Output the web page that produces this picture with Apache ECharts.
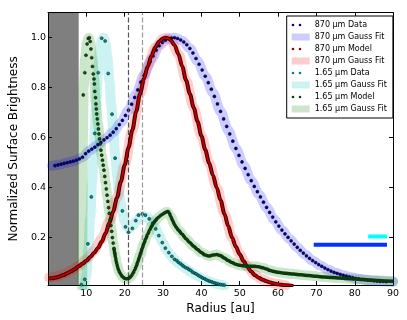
<!DOCTYPE html>
<html>
<head>
<meta charset="utf-8">
<style>
html, body { margin: 0; padding: 0; background: #fff; }
#chart { width: 407px; height: 320px; }
</style>
</head>
<body>
<div id="chart"></div>
<script src="https://cdn.jsdelivr.net/npm/echarts@6/dist/echarts.min.js"></script>
<script>
// radial profiles (radius in au, normalized surface brightness)
var r870 = [1.8,2.6,3.4,4.2,5.0,5.8,6.6,7.4,8.2,9.0,9.8,10.6,11.4,12.2,13.0,13.8,14.6,15.4,16.2,17.0,
  17.8,18.6,19.4,20.2,21.0,21.8,22.6,23.4,24.2,25.0,25.8,26.6,27.4,28.2,29.0,29.8,30.6,31.4,32.2,33.0,
  33.8,34.6,35.4,36.2,37.0,37.8,38.6,39.4,40.2,41.0,41.8,42.6,43.4,44.2,45.0,45.8,46.6,47.4,48.2,49.0,
  49.8,50.6,51.4,52.2,53.0,53.8,54.6,55.4,56.2,57.0,57.8,58.6,59.4,60.2,61.0,61.8,62.6,63.4,64.2,65.0,
  65.8,66.6,67.4,68.2,69.0,69.8,70.6,71.4,72.2,73.0,73.8,74.6,75.4,76.2,77.0,77.8,78.6,79.4,80.2,81.0,
  81.8,82.6,83.4,84.2,85.0,85.8,86.6,87.4,88.2];
var sb870Data = [0.488,0.491,0.494,0.497,0.500,0.503,0.506,0.510,0.515,0.522,
  0.536,0.546,0.554,0.562,0.572,0.581,0.591,0.600,0.610,0.622,
  0.636,0.652,0.669,0.689,0.710,0.734,0.761,0.791,0.822,0.850,
  0.878,0.903,0.927,0.950,0.968,0.981,0.990,0.996,0.999,1.000,
  0.997,0.991,0.983,0.972,0.957,0.939,0.917,0.894,0.871,0.846,
  0.820,0.794,0.765,0.735,0.705,0.675,0.645,0.615,0.586,0.557,
  0.529,0.503,0.477,0.452,0.428,0.405,0.384,0.363,0.342,0.321,
  0.301,0.282,0.263,0.246,0.230,0.215,0.201,0.187,0.174,0.161,
  0.149,0.138,0.127,0.117,0.108,0.100,0.092,0.085,0.078,0.072,
  0.066,0.061,0.057,0.053,0.049,0.046,0.043,0.040,0.037,0.035,
  0.033,0.032,0.030,0.029,0.027,0.026,0.025,0.025,0.024];

var fit870 = [[1,0.487],[3,0.492],[5,0.5],[7,0.508],[9,0.522],[11,0.55],[13,0.572],[15,0.596],[17,0.622],
  [19,0.66],[21,0.71],[23,0.775],[25,0.85],[27,0.915],[29,0.968],[31,0.994],[33,1.0],[35,0.988],[37,0.957],
  [39,0.906],[41,0.846],[43,0.78],[45,0.705],[47,0.63],[49,0.557],[51,0.49],[53,0.428],[55,0.373],[57,0.321],
  [59,0.272],[61,0.23],[63,0.194],[65,0.161],[67,0.132],[69,0.108],[71,0.088],[73,0.072],[75,0.059],[77,0.049],
  [79,0.041],[81,0.035],[83,0.031],[85,0.027],[87,0.025],[89,0.023],[90,0.023]];

var model870 = [[0.3,0.036],[1,0.037],[2,0.04],[3,0.044],[4,0.05],[5,0.057],[6,0.065],[7,0.074],[8,0.085],
  [9,0.096],[10,0.107],[11,0.122],[12,0.138],[13,0.158],[14,0.183],[15,0.217],[16,0.258],[17,0.305],[18,0.36],
  [19,0.424],[20,0.49],[21,0.56],[22,0.63],[23,0.705],[24,0.775],[25,0.835],[26,0.885],[27,0.928],[28,0.962],
  [29,0.985],[30,0.997],[30.7,1.0],[31.5,0.997],[32,0.99],[33,0.97],[34,0.935],[35,0.885],[36,0.83],[37,0.775],
  [38,0.72],[39,0.665],[40,0.607],[41,0.552],[42,0.5],[43,0.45],[44,0.4],[45,0.35],[46,0.296],[47,0.246],
  [48,0.2],[49,0.163],[50,0.133],[51,0.106],[52,0.083],[53,0.064],[54,0.049],[55,0.039],[56,0.031],[57,0.025],
  [58,0.02],[59,0.016],[60,0.013],[61,0.011],[62,0.009],[64,0.006]];

var fit870b = [[0.3,0.04],[2,0.044],[4,0.053],[6,0.068],[8,0.088],[10,0.113],[12,0.148],[14,0.195],[16,0.265],
  [18,0.362],[20,0.49],[22,0.63],[24,0.775],[26,0.885],[28,0.962],[30,0.997],[31,1.0],[32,0.99],[34,0.935],
  [36,0.83],[38,0.72],[40,0.607],[42,0.5],[44,0.4],[46,0.296],[48,0.2],[50,0.133],[52,0.083],[54,0.05],
  [56,0.032],[58,0.02],[60,0.013],[62,0.008]];

var data165 = [[8.7,0.012],[9.6,0.033],[10.4,0.175],[11.3,0.363],[12.2,0.617],[13.1,0.86],[14.0,0.998],
  [14.9,0.987],[15.7,0.857],[16.7,0.694],[17.5,0.518],[18.4,0.373],[19.4,0.307],[20.2,0.243],[21.0,0.221],
  [22.0,0.237],[22.9,0.268],[23.6,0.29],[24.6,0.295],[25.4,0.29],[26.4,0.275],[27.3,0.258],[28.1,0.235],
  [28.9,0.208],[29.8,0.18],[30.6,0.158],[31.5,0.14],[32.3,0.125],[33.0,0.113],[33.6,0.108],[34.0,0.101],
  [34.5,0.096],[35.0,0.09],[35.4,0.085],[35.9,0.08],[36.4,0.077],[36.8,0.072],[37.3,0.068],[37.7,0.062],
  [38.2,0.058],[38.6,0.055],[39.1,0.05],[39.5,0.046],[40.0,0.042],[40.4,0.038],[40.9,0.035],[41.3,0.031],
  [41.8,0.028],[42.2,0.025],[42.7,0.023],[43.1,0.02],[43.6,0.018],[44.0,0.016],[44.5,0.014],[45.0,0.012],
  [45.5,0.011],[46.0,0.01]];

var fit165 = [[9.5,0.0],[10,0.05],[10.5,0.15],[11,0.28],[11.5,0.42],[12,0.57],[12.5,0.72],[13,0.85],[13.5,0.94],
  [14,0.99],[14.5,1.0],[15,0.975],[15.5,0.92],[16,0.83],[16.5,0.73],[17,0.63],[17.5,0.535],[18,0.45],[18.5,0.385],
  [19,0.335],[19.5,0.295],[20,0.265],[20.5,0.245],[21,0.237],[21.5,0.238],[22,0.245],[23,0.265],[24,0.283],
  [25,0.288],[26,0.28],[27,0.262],[28,0.237],[29,0.208],[30,0.178],[31,0.15],[32,0.128],[33,0.112],[34,0.098],
  [35,0.086],[36,0.075],[37,0.065],[38,0.055],[39,0.046],[40,0.038],[41,0.031],[42,0.025],[43,0.02],[44,0.015],
  [45,0.011],[46,0.007]];

var model165 = [[8.9,0.0],[9.2,0.771],[9.6,0.86],[9.9,0.93],[10.2,0.975],[10.5,0.997],[10.8,1.0],[11.0,0.985],
  [11.2,0.955],[11.4,0.92],[11.6,0.885],[11.8,0.855],[12.0,0.835],[12.1,0.815],[12.2,0.785],[12.4,0.76],
  [12.5,0.735],[12.6,0.715],[12.7,0.695],[12.85,0.675],[13.0,0.655],[13.15,0.635],[13.3,0.615],[13.45,0.595],
  [13.6,0.575],[13.8,0.55],[14.0,0.53],[14.2,0.51],[14.4,0.49],[14.6,0.47],[14.8,0.445],[15.0,0.42],[15.2,0.395],
  [15.4,0.37],[15.6,0.345],[15.8,0.32],[16.0,0.297],[16.2,0.272],[16.4,0.248],[16.6,0.225],[16.8,0.2],[17.0,0.178],
  [17.2,0.157],[17.4,0.138],[17.6,0.12],[17.8,0.105],[18.0,0.092],[18.2,0.08],[18.4,0.07],[18.7,0.06],[19.0,0.052],
  [19.3,0.045],[19.7,0.04],[20.1,0.036],[20.6,0.035],[21.0,0.037],[21.4,0.041],[21.8,0.048],[22.2,0.058],
  [22.6,0.07],[23.0,0.085],[23.4,0.102],[23.8,0.12],[24.2,0.14],[24.6,0.158],[25.0,0.176],[25.5,0.195],[26.0,0.213],
  [26.5,0.23],[27.0,0.245],[27.5,0.258],[28.0,0.268],[28.5,0.277],[29.0,0.284],[29.5,0.29],[30.0,0.295],[30.5,0.3],
  [31.0,0.304],[31.3,0.305],[31.6,0.3],[32.0,0.285],[32.5,0.268],[33.0,0.252],[33.5,0.24],[34.0,0.23],[35.0,0.213],
  [36.0,0.195],[37.0,0.18],[38.0,0.165],[39.0,0.152],[40.0,0.14],[41.0,0.13],[42.0,0.126],[43.0,0.13],[44.0,0.132],
  [45.0,0.128],[46.0,0.118],[47.0,0.108],[48.0,0.1],[49.0,0.093],[50.0,0.089],[51.0,0.087],[52.0,0.086],
  [53.0,0.085],[54.0,0.085],[55.0,0.083],[56.0,0.079],[57.0,0.074],[58.0,0.068],[59.0,0.064],[60.0,0.061],
  [62.0,0.057],[64.0,0.054],[66.0,0.051],[68.0,0.048],[70.0,0.045],[72.0,0.042],[74.0,0.04],[76.0,0.038],
  [78.0,0.036],[80.0,0.034],[82.0,0.032],[84.0,0.03],[86.0,0.028],[88.0,0.026],[90.0,0.025]];

var fit165b = [[8.9,0.0],[9.0,0.3],[9.1,0.6],[9.3,0.8],[9.7,0.92],[10.1,0.98],[10.6,1.0],[11.0,0.985],[11.5,0.92],
  [12.0,0.84],[12.5,0.74],[13.0,0.66],[13.5,0.6],[14.0,0.53],[14.5,0.48],[15.0,0.42],[15.5,0.36],[16.0,0.3],
  [16.5,0.237],[17.0,0.178],[17.5,0.13],[18.0,0.092],[18.5,0.066],[19.0,0.052],[19.5,0.042],[20.0,0.037],
  [20.5,0.035],[21.0,0.037],[21.5,0.043],[22.0,0.053],[23.0,0.085],[24.0,0.13],[25.0,0.176],[26.0,0.213],
  [27.0,0.245],[28.0,0.268],[29.0,0.284],[30.0,0.295],[31.0,0.304],[32.0,0.285],[33.0,0.252],[34.0,0.23],
  [36.0,0.195],[38.0,0.165],[40.0,0.14],[42.0,0.126],[44.0,0.132],[46.0,0.118],[48.0,0.1],[50.0,0.089],
  [52.0,0.086],[54.0,0.085],[56.0,0.079],[58.0,0.068],[60.0,0.061],[64.0,0.054],[68.0,0.048],[72.0,0.042],
  [76.0,0.038],[80.0,0.034],[85.0,0.029],[90.0,0.025]];

// beam sizes drawn as bars in the lower right
var beam870 = [[69.3,0.171],[88.4,0.171]];
var beam165 = [[83.5,0.204],[88.4,0.204]];

var xTicks = [10,20,30,40,50,60,70,80,90];
var yTicks = [0.2,0.4,0.6,0.8,1.0];
var maskR = 8;          // region hidden by the coronagraph
var gapR = [21, 24.5];  // dashed markers

var font = 'DejaVu Sans';
var dots = 'path://M0,0L0,0M18,7L18,7M0,3.5a1.3,1.3 0 1,0 2.6,0a1.3,1.3 0 1,0 -2.6,0ZM7,3.5a1.3,1.3 0 1,0 2.6,0a1.3,1.3 0 1,0 -2.6,0Z';

var chart = echarts.init(document.getElementById('chart'));

function axisX(pos, labels) {
  return {
    type: 'value', min: 0, max: 90, position: pos,
    axisLine: { onZero: false, lineStyle: { color: '#000', width: 1 } },
    axisTick: { inside: true, length: 4, customValues: xTicks, lineStyle: { color: '#000' } },
    axisLabel: { show: labels, customValues: xTicks, margin: 3, fontSize: 9.5, color: '#000', fontFamily: font },
    splitLine: { show: false }
  };
}
function axisY(pos, labels) {
  return {
    type: 'value', min: 0.01, max: 1.1, position: pos,
    axisLine: { onZero: false, lineStyle: { color: '#000', width: 1 } },
    axisTick: { inside: true, length: 4, customValues: yTicks, lineStyle: { color: '#000' } },
    axisLabel: { show: labels, customValues: yTicks, margin: 2, fontSize: 9.5, color: '#000', fontFamily: font,
      formatter: function (v) { return v.toFixed(1); } },
    splitLine: { show: false }
  };
}

var xa = axisX('bottom', true);
xa.name = 'Radius [au]';
xa.nameLocation = 'middle';
xa.nameGap = 16;
xa.nameTextStyle = { fontSize: 12, color: '#000', fontFamily: font };
var ya = axisY('left', true);
ya.name = 'Normalized Surface Brightness';
ya.nameLocation = 'middle';
ya.nameGap = 20;
ya.nameTextStyle = { fontSize: 12, color: '#000', fontFamily: font };

function band(name, data, color) {
  return { name: name, type: 'line', data: data, z: 2, symbol: 'none', smooth: 0.3, smoothMonotone: 'x',
    lineStyle: { color: color, width: 10, cap: 'round', join: 'round' } };
}
function dotsSeries(name, data, color, z) {
  return { name: name, type: 'scatter', data: data, z: z, symbol: 'circle', symbolSize: 3.1,
    itemStyle: { color: color, borderColor: '#000', borderWidth: 0.4, opacity: 1 } };
}

var option = {
  animation: false,
  backgroundColor: '#fff',
  grid: { left: 41.2, right: 13.9, top: 12.7, bottom: 34.8 },
  xAxis: [xa, axisX('top', false)],
  yAxis: [ya, axisY('right', false)],
  legend: {
    orient: 'vertical', left: 286.7, top: 16,
    backgroundColor: '#fff', borderColor: '#000', borderWidth: 1, borderRadius: 0,
    padding: [5, 6, 5, 5], itemWidth: 18, itemHeight: 7, itemGap: 4, selectedMode: false,
    textStyle: { fontSize: 8, lineHeight: 8, color: '#000', fontFamily: font },
    formatter: function (n) { return n.replace(' #2', ''); },
    data: [
      { name: '870 μm Data', icon: dots, itemStyle: { color: '#000090', borderWidth: 0 } },
      { name: '870 μm Gauss Fit', icon: 'rect', itemStyle: { color: '#ccccff', borderWidth: 0 } },
      { name: '870 μm Model', icon: dots, itemStyle: { color: '#900000', borderWidth: 0 } },
      { name: '870 μm Gauss Fit #2', icon: 'rect', itemStyle: { color: '#ffcccc', borderWidth: 0 } },
      { name: '1.65 μm Data', icon: dots, itemStyle: { color: '#008080', borderWidth: 0 } },
      { name: '1.65 μm Gauss Fit', icon: 'rect', itemStyle: { color: '#ccf2f2', borderWidth: 0 } },
      { name: '1.65 μm Model', icon: dots, itemStyle: { color: '#0a400a', borderWidth: 0 } },
      { name: '1.65 μm Gauss Fit #2', icon: 'rect', itemStyle: { color: '#cce5cc', borderWidth: 0 } }
    ]
  },
  series: [
    band('870 μm Gauss Fit', fit870, 'rgba(0,0,255,0.2)'),
    band('870 μm Gauss Fit #2', fit870b, 'rgba(255,0,0,0.2)'),
    band('1.65 μm Gauss Fit', fit165, 'rgba(0,190,190,0.2)'),
    band('1.65 μm Gauss Fit #2', fit165b, 'rgba(0,128,0,0.2)'),
    {
      name: 'gaps', type: 'line', data: [], z: 3, silent: true,
      markLine: { silent: true, symbol: 'none', label: { show: false }, animation: false,
        lineStyle: { type: [5, 2.5], width: 1.2 },
        data: [{ xAxis: gapR[0], lineStyle: { color: '#555' } }, { xAxis: gapR[1], lineStyle: { color: '#999' } }] }
    },
    dotsSeries('870 μm Data', r870.map(function (r, i) { return [r, sb870Data[i]]; }), '#000090', 4),
    dotsSeries('1.65 μm Data', data165, '#008b8b', 4),
    { name: 'model870 edge', type: 'line', data: model870, z: 5, symbol: 'none', smooth: 0.3, smoothMonotone: 'x',
      lineStyle: { color: '#3a0000', width: 4 } },
    { name: '870 μm Model', type: 'line', data: model870, z: 5, symbol: 'none', smooth: 0.3, smoothMonotone: 'x',
      lineStyle: { color: '#c00000', width: 2 } },
    dotsSeries('1.65 μm Model', model165.filter(function (p) { return p[0] > 9 && p[0] < 17.6; }), '#0a500a', 5),
    { name: '1.65 μm Model', type: 'line', data: model165.filter(function (p) { return p[0] >= 17.2; }), z: 5,
      symbol: 'none', smooth: 0.3, smoothMonotone: 'x', lineStyle: { color: '#0c3a0c', width: 3.5 } },
    { name: 'beam 870', type: 'line', data: beam870, z: 5, symbol: 'none', lineStyle: { color: '#0033ff', width: 4, cap: 'butt' } },
    { name: 'beam 1.65', type: 'line', data: beam165, z: 5, symbol: 'none', lineStyle: { color: '#00ffff', width: 4, cap: 'butt' } },
    {
      name: 'mask', type: 'line', data: [], z: 10, silent: true,
      markArea: { silent: true, itemStyle: { color: 'rgba(0,0,0,0.5)' }, data: [[{ xAxis: 0 }, { xAxis: maskR }]] }
    }
  ]
};
chart.setOption(option);
</script>
</body>
</html>
